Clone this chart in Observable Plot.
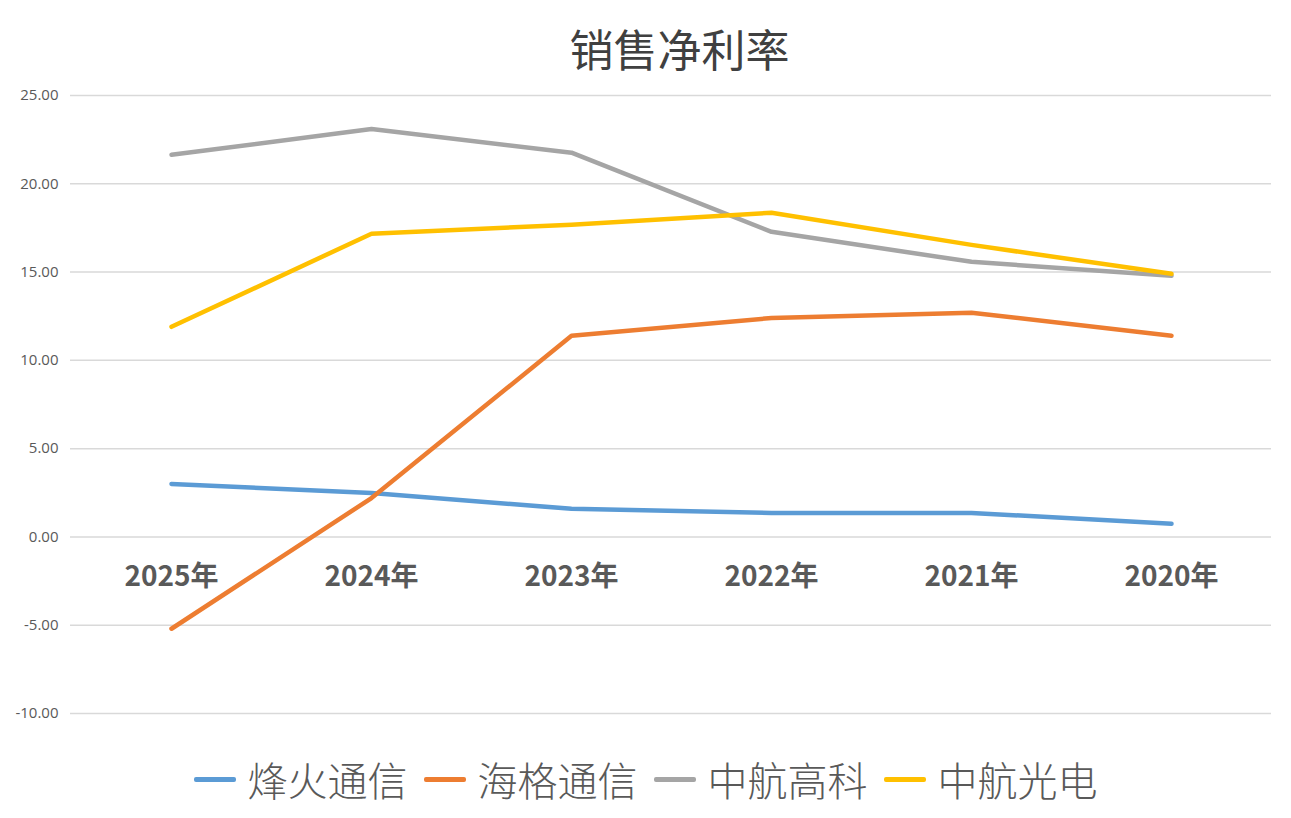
<!DOCTYPE html>
<html>
<head>
<meta charset="utf-8">
<script src="https://cdn.jsdelivr.net/npm/d3@7"></script>
<script src="https://cdn.jsdelivr.net/npm/@observablehq/plot@0.6"></script>
<style>
  html, body { margin: 0; padding: 0; background: #fff; }
  #wrap { position: relative; width: 1291px; height: 818px; overflow: hidden; font-family: "Noto Sans CJK SC", "Noto Sans", sans-serif; }
  #title { height: 85px; line-height: 96px; text-align: center; font-size: 44px; color: #404040; font-weight: 400; padding-left: 68px; box-sizing: border-box; }
  #chart { height: 655px; }
  #legend { display: flex; justify-content: center; align-items: center; height: 78px; color: #595959; font-size: 40px; font-weight: 300; }
  .item { display: flex; align-items: center; margin: 0 8px; }
  .sw { width: 42px; height: 5px; border-radius: 2px; margin-right: 12px; }
</style>
</head>
<body>
<div id="wrap">
  <div id="title">销售净利率</div>
  <div id="chart"></div>
  <div id="legend"></div>
</div>
<script>
const years = ["2025年", "2024年", "2023年", "2022年", "2021年", "2020年"];
const seriesNames = ["烽火通信", "海格通信", "中航高科", "中航光电"];
const seriesColors = ["#5B9BD5", "#ED7D31", "#A5A5A5", "#FFC000"];
const fenghuo = [3.00, 2.49, 1.59, 1.36, 1.36, 0.74];
const haige = [-5.20, 2.20, 11.39, 12.40, 12.70, 11.39];
const zhonghangGaoke = [21.64, 23.10, 21.76, 17.28, 15.58, 14.79];
const zhonghangGuangdian = [11.90, 17.17, 17.68, 18.36, 16.54, 14.90];
const yTicks = [-10, -5, 0, 5, 10, 15, 20, 25];

const allValues = [fenghuo, haige, zhonghangGaoke, zhonghangGuangdian];
const rows = [];
allValues.forEach((vals, si) => {
  vals.forEach((v, i) => rows.push({ series: seriesNames[si], year: years[i], value: v }));
});

const chart = Plot.plot({
  width: 1291,
  height: 655,
  marginLeft: 70,
  marginRight: 20,
  marginTop: 10,
  marginBottom: 27,
  style: { fontFamily: "'Open Sans', 'Noto Sans', sans-serif", background: "#fff" },
  x: { type: "point", domain: years, padding: 0.5, axis: null },
  y: { domain: [-10, 25], ticks: yTicks, tickFormat: d => d.toFixed(2), label: null },
  color: { domain: seriesNames, range: seriesColors },
  marks: [
    Plot.ruleY(yTicks, { stroke: "#d9d9d9", strokeWidth: 1.5 }),
    Plot.axisY({ ticks: yTicks, tickSize: 0, tickPadding: 12, tickFormat: d => d.toFixed(2), fontSize: 15, fill: "#595959", label: null }),
    Plot.text(years, { x: d => d, y: () => 0, dy: 40, text: d => d, fontSize: 28, fontWeight: "bold", fill: "#595959", fontFamily: "'Noto Sans CJK SC', sans-serif" }),
    Plot.line(rows, { x: "year", y: "value", z: "series", stroke: "series", strokeWidth: 4.5, strokeLinejoin: "round", strokeLinecap: "round" })
  ]
});
document.getElementById("chart").appendChild(chart);

const legend = document.getElementById("legend");
seriesNames.forEach((name, i) => {
  const it = document.createElement("div");
  it.className = "item";
  const sw = document.createElement("div");
  sw.className = "sw";
  sw.style.background = seriesColors[i];
  const tx = document.createElement("span");
  tx.textContent = name;
  it.appendChild(sw);
  it.appendChild(tx);
  legend.appendChild(it);
});
</script>
</body>
</html>
